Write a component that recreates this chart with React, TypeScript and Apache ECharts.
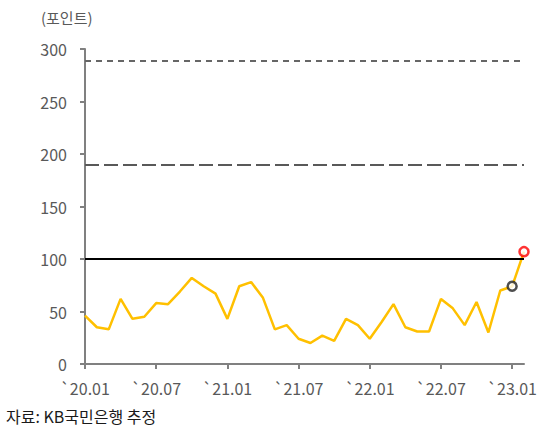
import React, { useEffect, useRef } from "react";
import * as echarts from "echarts";

const categories = [
  "`20.01", "`20.02", "`20.03", "`20.04", "`20.05", "`20.06", "`20.07", "`20.08", "`20.09", "`20.10", "`20.11", "`20.12",
  "`21.01", "`21.02", "`21.03", "`21.04", "`21.05", "`21.06", "`21.07", "`21.08", "`21.09", "`21.10", "`21.11", "`21.12",
  "`22.01", "`22.02", "`22.03", "`22.04", "`22.05", "`22.06", "`22.07", "`22.08", "`22.09", "`22.10", "`22.11", "`22.12",
  "`23.01", "`23.02",
];

const indexValues = [
  46, 35, 33, 62, 43, 45, 58, 57, 69, 82, 74, 67,
  43, 74, 78, 63, 33, 37, 24, 20, 27, 22, 43, 37,
  24, 40, 57, 35, 31, 31, 62, 53, 37, 59, 30, 70,
  74, 107,
];

const blackPoint = [["`23.01", 74]];
const redPoint = [["`23.02", 107]];

const refShortDash = 289;
const refLongDash = 190;
const refBase = 100;

const yTicks = { min: 0, max: 300, interval: 50 };

const FONT = "'Noto Sans CJK KR', 'Noto Sans', sans-serif";

export default function App() {
  const ref = useRef<HTMLDivElement>(null);

  useEffect(() => {
    if (!ref.current) return;
    const chart = echarts.init(ref.current, null, { renderer: "svg" });
    chart.setOption({
      animation: false,
      backgroundColor: "#ffffff",
      grid: { left: 85, top: 49, right: 25, bottom: 69, containLabel: false },
      graphic: [
        {
          type: "text",
          left: 41,
          top: 10,
          style: { text: "(포인트)", fontSize: 15, fill: "#595959", fontFamily: FONT },
        },
        {
          type: "text",
          left: 6,
          top: 408,
          style: { text: "자료: KB국민은행 추정", fontSize: 16, fill: "#1a1a1a", fontFamily: FONT },
        },
      ],
      xAxis: {
        type: "category",
        data: categories,
        boundaryGap: false,
        axisLine: { lineStyle: { color: "#808080", width: 2 } },
        axisTick: {
          show: true,
          length: 5,
          interval: (i: number) => i % 6 === 0 && i < 37,
          lineStyle: { color: "#808080", width: 2 },
        },
        axisLabel: {
          interval: (i: number) => i % 6 === 0 && i < 37,
          margin: 16,
          fontSize: 16,
          color: "#595959",
          fontFamily: FONT,
        },
        splitLine: { show: false },
      },
      yAxis: {
        type: "value",
        min: yTicks.min,
        max: yTicks.max,
        interval: yTicks.interval,
        axisLine: { show: true, lineStyle: { color: "#808080", width: 2 } },
        axisTick: { show: true, length: 5, lineStyle: { color: "#808080", width: 2 } },
        axisLabel: { margin: 18, fontSize: 16, color: "#595959", fontFamily: FONT },
        splitLine: { show: false },
      },
      series: [
        {
          type: "line",
          data: indexValues,
          symbol: "none",
          lineStyle: { color: "#FFC000", width: 2.5 },
          z: 3,
          markLine: {
            silent: true,
            symbol: "none",
            label: { show: false },
            data: [
              { yAxis: refShortDash, lineStyle: { color: "#666666", width: 2, type: [6, 5] } },
              { yAxis: refLongDash, lineStyle: { color: "#595959", width: 2, type: [14, 5] } },
              { yAxis: refBase, lineStyle: { color: "#000000", width: 2, type: "solid" } },
            ],
          },
        },
        {
          type: "scatter",
          data: blackPoint,
          symbol: "circle",
          symbolSize: 9,
          itemStyle: { color: "#ffffff", borderColor: "#222222", borderWidth: 2.5 },
          z: 5,
        },
        {
          type: "scatter",
          data: redPoint,
          symbol: "circle",
          symbolSize: 9,
          itemStyle: { color: "#ffffff", borderColor: "#ff0000", borderWidth: 2.5 },
          z: 5,
        },
      ],
    });
    return () => chart.dispose();
  }, []);

  return (
    <div
      ref={ref}
      style={{ position: "absolute", left: 0, top: 0, width: 549, height: 433 }}
    />
  );
}
